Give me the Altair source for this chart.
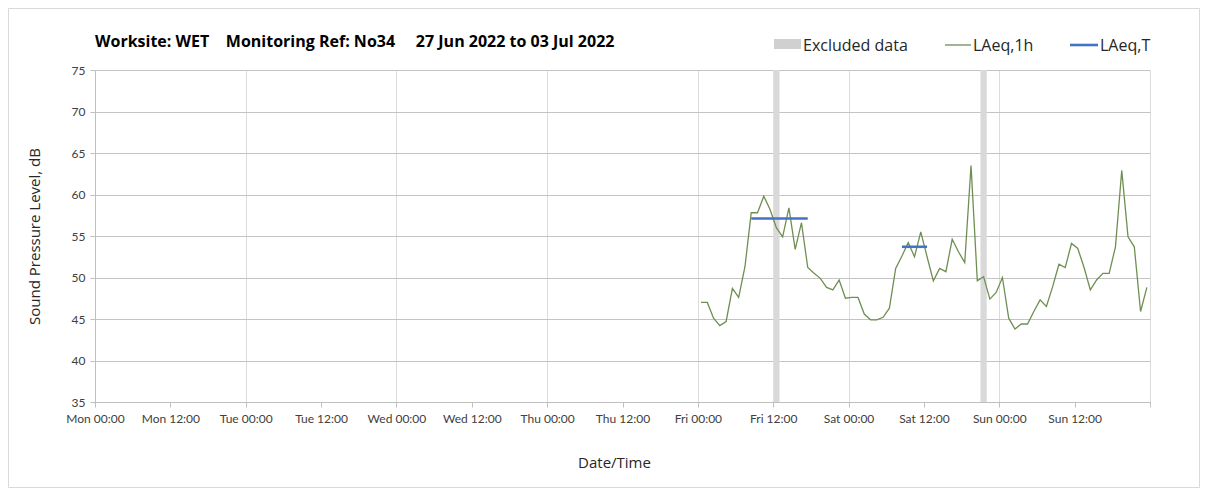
import altair as alt
import pandas as pd

# ---------------- data ----------------
DAYS = ["Mon", "Tue", "Wed", "Thu", "Fri", "Sat", "Sun"]
TITLE = "Worksite: WET\u00a0\u00a0\u00a0 Monitoring Ref: No34\u00a0\u00a0\u00a0\u00a0 27 Jun 2022 to 03 Jul 2022"

# hourly LAeq,1h values, first point Fri 00:30 (hour 96.5 from Mon 00:00)
first_hour = 96.5
laeq_1h = [
    47.0, 47.0, 45.1, 44.2, 44.7, 48.7, 47.6, 51.3, 57.8, 57.8,
    59.8, 58.2, 56.0, 54.9, 58.4, 53.4, 56.6, 51.2, 50.5, 49.9,
    48.8, 48.5, 49.7, 47.5, 47.6, 47.6, 45.6, 44.9, 44.9, 45.2,
    46.3, 51.1, 52.6, 54.2, 52.5, 55.5, 52.5, 49.6, 51.1, 50.7,
    54.6, 53.1, 51.8, 63.5, 49.6, 50.1, 47.4, 48.2, 50.0, 45.1,
    43.8, 44.4, 44.4, 45.9, 47.3, 46.5, 48.9, 51.6, 51.2, 54.1,
    53.5, 51.2, 48.5, 49.7, 50.5, 50.5, 53.7, 62.9, 54.9, 53.7,
    45.9, 48.8,
]
hours = [first_hour + i for i in range(len(laeq_1h))]

# excluded periods (hours from Mon 00:00)
excluded_start = [108, 141]
excluded_end = [109, 142]

# LAeq,T periods
laeqT_start = [104.5, 128.5]
laeqT_end = [113.5, 132.5]
laeqT_value = [57.1, 53.7]

x_ticks = list(range(0, 169, 12))
y_ticks = list(range(35, 76, 5))

line_df = pd.DataFrame({"hour": hours, "laeq": laeq_1h})
excl_df = pd.DataFrame({"start": excluded_start, "end": excluded_end})
laeqT_df = pd.DataFrame({"start": laeqT_start, "end": laeqT_end, "value": laeqT_value})
one = pd.DataFrame({"k": [0]})

# ---------------- styling ----------------
FONT = "Lato"
TFONT = "Open Sans"
W, H = 1055, 332
GREEN = "#6f8f52"
BLUE = "#4472C4"
BAND = "#d9d9d9"

day_arr = "[" + ",".join("'%s'" % d for d in DAYS) + "]"
label_expr = (
    "datum.value >= 168 ? '' : " + day_arr +
    "[floor(datum.value / 24)] + ' ' + (datum.value % 24 == 0 ? '00:00' : '12:00')"
)

xscale = alt.Scale(domain=[0, 168], nice=False, zero=False)
yscale = alt.Scale(domain=[35, 75], nice=False, zero=False)

xaxis = alt.Axis(
    values=x_ticks, labelExpr=label_expr, title="Date/Time",
    grid=True, gridColor="#dcdcdc",
    gridOpacity={"condition": {"test": "datum.value % 24 == 0", "value": 1}, "value": 0},
    titlePadding=31, labelPadding=6, labelFlush=False, titleX=519,
)
yaxis = alt.Axis(
    values=y_ticks, title="Sound Pressure Level, dB", grid=True, gridColor="#c4c4c4",
    titlePadding=29, labelPadding=5,
)


def X(field, **kw):
    return alt.X(field, type="quantitative", scale=xscale, axis=xaxis, **kw)


def Y(field, **kw):
    return alt.Y(field, type="quantitative", scale=yscale, axis=yaxis, **kw)


bands = alt.Chart(excl_df).mark_rect(color=BAND).encode(
    x=X("start"), x2="end",
    y=alt.Y(datum=75, type="quantitative", scale=yscale, axis=yaxis),
    y2=alt.Y2(datum=35),
)

line = alt.Chart(line_df).mark_line(color=GREEN, strokeWidth=1.3).encode(
    x=X("hour"), y=Y("laeq")
)

rules = alt.Chart(laeqT_df).mark_rule(color=BLUE, strokeWidth=2.6).encode(
    x=X("start"), x2="end", y=Y("value")
)

title = alt.Chart(one).mark_text(
    font=TFONT, fontSize=16, fontWeight="bold", color="#000000",
    align="left", baseline="middle",
).encode(x=alt.value(0), y=alt.value(-28), text=alt.value(TITLE))

# legend (drawn)
leg_rect = alt.Chart(one).mark_rect(color="#d0d0d0").encode(
    x=alt.value(679), x2=alt.value(706), y=alt.value(-31), y2=alt.value(-21)
)
leg_green = alt.Chart(one).mark_rule(color=GREEN, strokeWidth=1.3).encode(
    x=alt.value(850), x2=alt.value(876), y=alt.value(-25)
)
leg_blue = alt.Chart(one).mark_rule(color=BLUE, strokeWidth=2.6).encode(
    x=alt.value(975), x2=alt.value(1003), y=alt.value(-25)
)


def leg_text(txt, xpos):
    return alt.Chart(one).mark_text(
        font=TFONT, fontSize=16, color="#262626", align="left", baseline="middle"
    ).encode(x=alt.value(xpos), y=alt.value(-24.5), text=alt.value(txt))


border = alt.Chart(one).mark_rect(fill="transparent", stroke="#d9d9d9", strokeWidth=1).encode(
    x=alt.value(-86.5), x2=alt.value(1104.5), y=alt.value(-61.5), y2=alt.value(417.5)
)

chart = alt.layer(
    border, bands, line, rules, title,
    leg_rect, leg_text("Excluded data", 708),
    leg_green, leg_text("LAeq,1h", 878),
    leg_blue, leg_text("LAeq,T", 1005),
).properties(
    width=W, height=H,
    autosize=alt.AutoSizeParams(type="none"),
    padding={"left": 87, "top": 62, "right": 50, "bottom": 86},
).configure_view(strokeWidth=0).configure_axis(
    labelFont=FONT, labelFontSize=12, labelColor="#404040",
    titleFont=TFONT, titleFontSize=15, titleFontWeight="normal", titleColor="#262626",
    domainColor="#bfbfbf", tickColor="#bfbfbf", tickSize=5,
)

chart.save("out.html", embed_options={"renderer": "svg", "actions": False})
